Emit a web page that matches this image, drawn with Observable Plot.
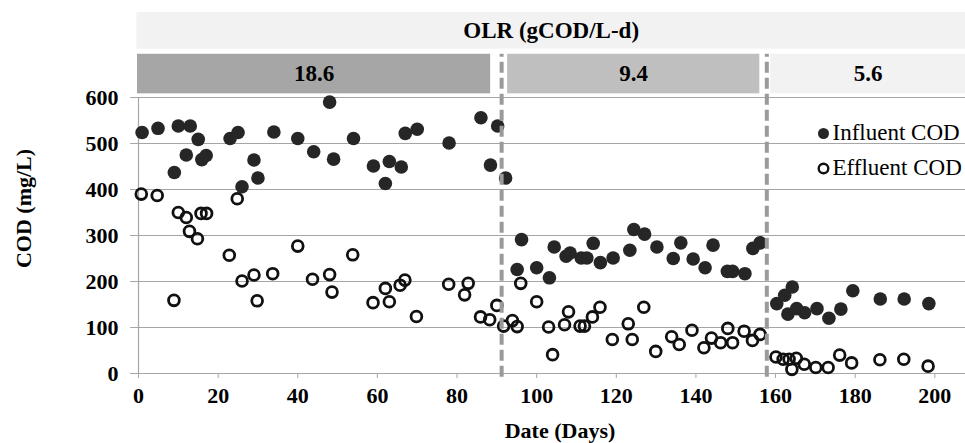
<!DOCTYPE html>
<html><head><meta charset="utf-8">
<script src="https://cdn.jsdelivr.net/npm/d3@7"></script>
<script src="https://cdn.jsdelivr.net/npm/@observablehq/plot@0.6"></script>
<style>body{margin:0;background:#fff} #chart svg{display:block}</style>
</head><body><div id="chart"></div>
<script>
const influentDay = [0.9,4.9,9,10,12,13,15,15.9,17,23,25,26,29,30,34,40,44,48,49,54,59,62,63,66,67,70,78,86,88.4,90.2,92.2,95.1,96.2,100,103.2,104.4,107.4,108.4,111.2,112.6,114.2,116,119.2,123.4,124.4,127.1,130.2,134.3,136.2,139.3,142.3,144.3,147.9,149.2,152.3,154.3,156.1,160.3,162.3,163.1,164.2,165.3,167.3,170.4,173.4,176.4,179.4,186.3,192.3,198.5];
const influentCOD = [524,533,437,538,475,538,509,465,474,511,524,406,464,425,525,511,482,590,466,511,451,413,461,449,522,531,501,556,453,538,425,226,291,230,208,275,255,262,251,251,283,241,251,268,313,303,275,250,284,249,230,279,222,222,217,272,284,152,170,129,188,141,132,141,120,140,180,162,162,152];
const effluentDay = [0.7,4.7,8.9,10,12,12.8,14.8,15.7,17.1,22.8,24.8,26,29,29.8,33.7,40,43.7,48,48.6,53.8,58.9,62,63,65.7,66.9,69.8,77.9,81.9,82.8,85.9,88.2,90,91.7,93.9,95.1,96,100,103,104,107,108,110.9,112,114,115.9,119,123,124,126.9,129.9,133.9,135.8,139,142,143.9,146.2,148,149.2,152.1,154.2,156.1,160.1,161.9,163.4,164.1,165.2,167.2,170.1,173.2,176.1,179.1,186.2,192.2,198.3];
const effluentCOD = [390,387,159,350,339,309,293,348,348,257,380,201,214,158,217,277,205,215,177,258,154,185,156,192,203,124,194,171,196,123,117,148,103,115,102,196,156,101,41,106,134,103,103,123,144,74,108,74,144,48,80,63,94,56,77,67,98,67,92,72,85,36,31,31,9,33,20,13,13,40,23,30,31,16];
const phaseStart = [0, 91.2, 157.8];
const phaseEnd = [91.2, 157.8, 207.7];
const phaseOLR = ["18.6", "9.4", "5.6"];
const headerTitle = "OLR (gCOD/L-d)";
const seriesNames = ["Influent COD", "Effluent COD"];
const xTicks = [0,20,40,60,80,100,120,140,160,180,200];
const yTicks = [0,100,200,300,400,500,600];
const xLabel = "Date (Days)";
const yLabel = "COD (mg/L)";

const influent = influentDay.map((d, i) => ({day: d, cod: influentCOD[i]}));
const effluent = effluentDay.map((d, i) => ({day: d, cod: effluentCOD[i]}));
const phases = phaseStart.map((s, i) => ({start: s, end: phaseEnd[i], olr: phaseOLR[i]}));
const phaseFill = ["#a6a6a6", "#bfbfbf", "#f2f2f2"];
const insets = [[-1, 11], [6, 7], [4, 0]];
const font = "'Liberation Serif', 'Times New Roman', serif";
const grey = "#a6a6a6";

const chart = Plot.plot({
  width: 965, height: 443,
  marginLeft: 138, marginRight: 0, marginTop: 97, marginBottom: 70,
  style: {fontFamily: font, fontSize: "22px", fontWeight: "bold", color: "#000", background: "#fff"},
  x: {domain: [0, 207.7]},
  y: {domain: [0, 600]},
  marks: [
    Plot.ruleY(yTicks, {stroke: grey, strokeWidth: 1.2}),
    Plot.ruleX([0], {stroke: grey, strokeWidth: 1.2}),
    Plot.axisY({ticks: yTicks, tickSize: 8, tickPadding: 12, label: null, stroke: grey, fill: "#000", tickFormat: d => d}),
    Plot.axisX({ticks: xTicks, tickSize: 5, tickPadding: 9, label: null, stroke: grey, fill: "#000", tickFormat: d => d}),
    Plot.rect([headerTitle], {x1: -0.4, x2: phaseEnd[2], y1: 705, y2: 785, fill: "#f2f2f2"}),
    Plot.text([headerTitle], {x: (phaseEnd[2] - 0.4) / 2, y: 746, text: d => d, fill: "#000", fontSize: 23}),
    ...phases.map((p, i) => Plot.rect([p], {x1: "start", x2: "end", y1: 608, y2: 694, fill: phaseFill[i], insetLeft: insets[i][0], insetRight: insets[i][1]})),
    ...phases.map((p, i) => Plot.text([p], {x: d => (d.start + d.end) / 2, y: 652, text: "olr", dx: (insets[i][0] - insets[i][1]) / 2, fill: "#000", fontSize: 23})),
    Plot.dot(influent, {x: "day", y: "cod", r: 6.8, fill: "#262626"}),
    Plot.dot(effluent, {x: "day", y: "cod", r: 5.4, stroke: "#111", strokeWidth: 2.8, fill: "none"}),
    Plot.ruleX(phaseStart.slice(1), {y1: -8, y2: 694, stroke: "#9a9a9a", strokeWidth: 4, strokeDasharray: "11,5"}),
    Plot.dot([seriesNames[0]], {frameAnchor: "top-right", dx: -142, dy: 36, r: 5.5, fill: "#262626"}),
    Plot.text([seriesNames[0]], {frameAnchor: "top-right", dx: -133, dy: 35, text: d => d, textAnchor: "start", lineAnchor: "middle", fontWeight: "normal", fontSize: 23, fill: "#000"}),
    Plot.dot([seriesNames[1]], {frameAnchor: "top-right", dx: -142, dy: 71, r: 4.8, stroke: "#111", strokeWidth: 2.4, fill: "none"}),
    Plot.text([seriesNames[1]], {frameAnchor: "top-right", dx: -133, dy: 70, text: d => d, textAnchor: "start", lineAnchor: "middle", fontWeight: "normal", fontSize: 23, fill: "#000"}),
    Plot.text([yLabel], {frameAnchor: "left", dx: -115, dy: -27, rotate: -90, textAnchor: "middle", lineAnchor: "middle", text: d => d, fill: "#000"}),
    Plot.text([xLabel], {frameAnchor: "bottom", dx: 8, dy: 57, lineAnchor: "middle", text: d => d, fill: "#000"})
  ]
});
document.getElementById("chart").appendChild(chart);
</script>
</body></html>
